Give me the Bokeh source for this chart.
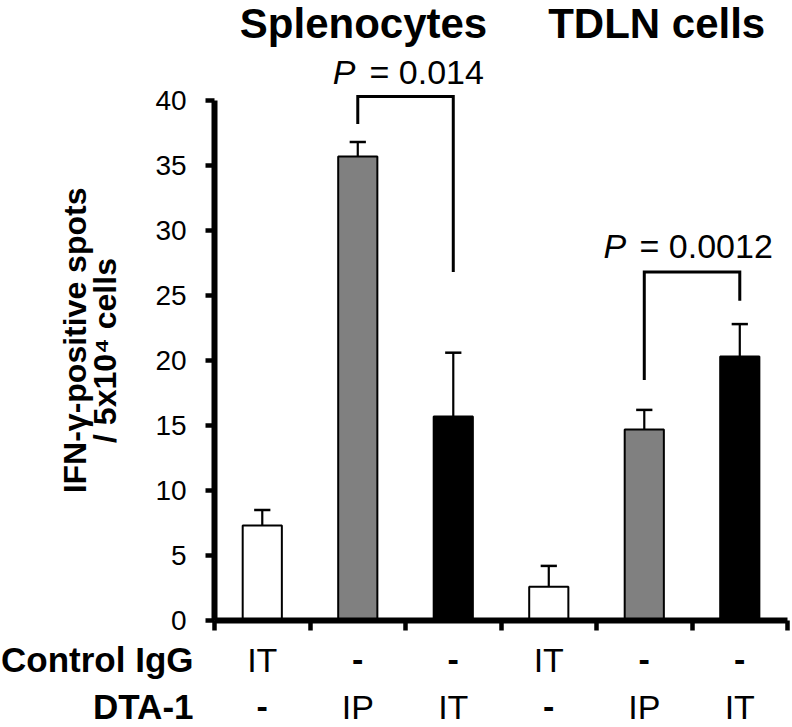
import math
from bokeh.plotting import figure
from bokeh.models import Range1d, FixedTicker, Label, ColumnDataSource
from bokeh.embed import file_html
from bokeh.resources import INLINE

# ---- data ----
positions = [1, 2, 3, 4, 5, 6]
groups = ["Splenocytes", "TDLN cells"]
control_igg = ["IT", "-", "-", "IT", "-", "-"]
dta1 = ["-", "IP", "IT", "-", "IP", "IT"]
means = [7.3, 35.7, 15.7, 2.6, 14.7, 20.3]
errors = [1.2, 1.1, 4.9, 1.6, 1.5, 2.5]
y_ticks = [0, 5, 10, 15, 20, 25, 30, 35, 40]
p_values = ["0.014", "0.0012"]
# brackets: (left x, right x, left leg bottom, top, right leg bottom)
brackets = [(2, 3, 38.2, 40.3, 26.8), (5, 6, 18.5, 26.8, 24.6)]

bar_colors = ["white", "#808080", "black", "white", "#808080", "black"]
FONT = "Liberation Sans"

p = figure(width=792, height=727, output_backend="svg", toolbar_location=None,
           x_range=Range1d(-1.741, 6.552), y_range=Range1d(-8.23, 47.69),
           min_border_left=0, min_border_right=0, min_border_top=0,
           min_border_bottom=0, min_border=0)
p.xgrid.visible = False
p.ygrid.visible = False
p.outline_line_color = None
p.background_fill_color = "white"
p.border_fill_color = "white"

# y axis
ya = p.yaxis[0]
ya.fixed_location = 0.5
ya.ticker = FixedTicker(ticks=y_ticks)
ya.bounds = (0, 40)
ya.axis_line_width = 6
ya.axis_line_color = "black"
ya.major_tick_line_width = 4.5
ya.major_tick_out = 9
ya.major_tick_in = 0
ya.minor_tick_out = 0
ya.minor_tick_in = 0
ya.major_label_text_font = FONT
ya.major_label_text_font_size = "28px"
ya.major_label_text_color = "black"
ya.major_label_standoff = 19

# x axis
xa = p.xaxis[0]
xa.fixed_location = 0
xa.ticker = FixedTicker(ticks=[0.5, 1.5, 2.5, 3.5, 4.5, 5.5, 6.5])
xa.bounds = (0.5, 6.5)
xa.axis_line_width = 6
xa.axis_line_color = "black"
xa.major_tick_line_width = 4.5
xa.major_tick_out = 10
xa.major_tick_in = 0
xa.minor_tick_out = 0
xa.minor_tick_in = 0
xa.major_label_text_color = None
xa.major_label_text_font_size = "10px"

src = ColumnDataSource(dict(x=positions, top=means, color=bar_colors,
                            err_top=[m + e for m, e in zip(means, errors)],
                            cap_l=[x - 0.085 for x in positions],
                            cap_r=[x + 0.085 for x in positions]))

# error bars (upper only)
p.segment(x0="x", y0="top", x1="x", y1="err_top", source=src,
          line_color="black", line_width=2.2)
p.segment(x0="cap_l", y0="err_top", x1="cap_r", y1="err_top", source=src,
          line_color="black", line_width=2.5)

# bars
p.vbar(x="x", top="top", bottom=0, width=0.41, source=src,
       fill_color="color", line_color="black", line_width=2)

# significance brackets
for (xl, xr, yl, yt, yr) in brackets:
    p.line([xl, xl, xr, xr], [yl, yt, yt, yr], line_color="black",
           line_width=3, line_join="miter")

def lab(x, y, text, size, bold=False, italic=False, align="center",
        baseline="alphabetic", angle=0.0):
    style = "normal"
    if bold and italic:
        style = "bold italic"
    elif bold:
        style = "bold"
    elif italic:
        style = "italic"
    p.add_layout(Label(x=x, y=y, text=text, text_font=FONT,
                       text_font_size=size, text_font_style=style,
                       text_color="black", text_align=align,
                       text_baseline=baseline, angle=angle))

# group titles
lab(2.06, 45.9, groups[0], "42px", bold=True)
lab(5.13, 45.9, groups[1], "42px", bold=True)

# P values
lab(1.738, 42.17, "P", "34px", italic=True, align="left")
lab(2.123, 42.17, "= " + p_values[0], "34px", align="left")
lab(4.573, 28.78, "P", "34px", italic=True, align="left")
lab(4.95, 28.78, "= " + p_values[1], "34px", align="left")

# treatment rows
lab(0.28, -3.03, "Control IgG", "35px", bold=True, align="right")
lab(0.28, -6.65, "DTA-1", "35px", bold=True, align="right")
for x, a, b in zip(positions, control_igg, dta1):
    lab(x, -3.03, a, "34px", bold=(a == "-"))
    lab(x, -6.65, b, "34px", bold=(b == "-"))

# y-axis label (two lines)
lab(-0.966, 21.54, "IFN-\u03b3-positive spots", "32px", bold=True,
    baseline="middle", angle=math.pi / 2)
lab(-0.647, 20.77, "/ 5x10\u2074 cells", "32px", bold=True,
    baseline="middle", angle=math.pi / 2)

open("out.html", "w").write(file_html(p, INLINE))
